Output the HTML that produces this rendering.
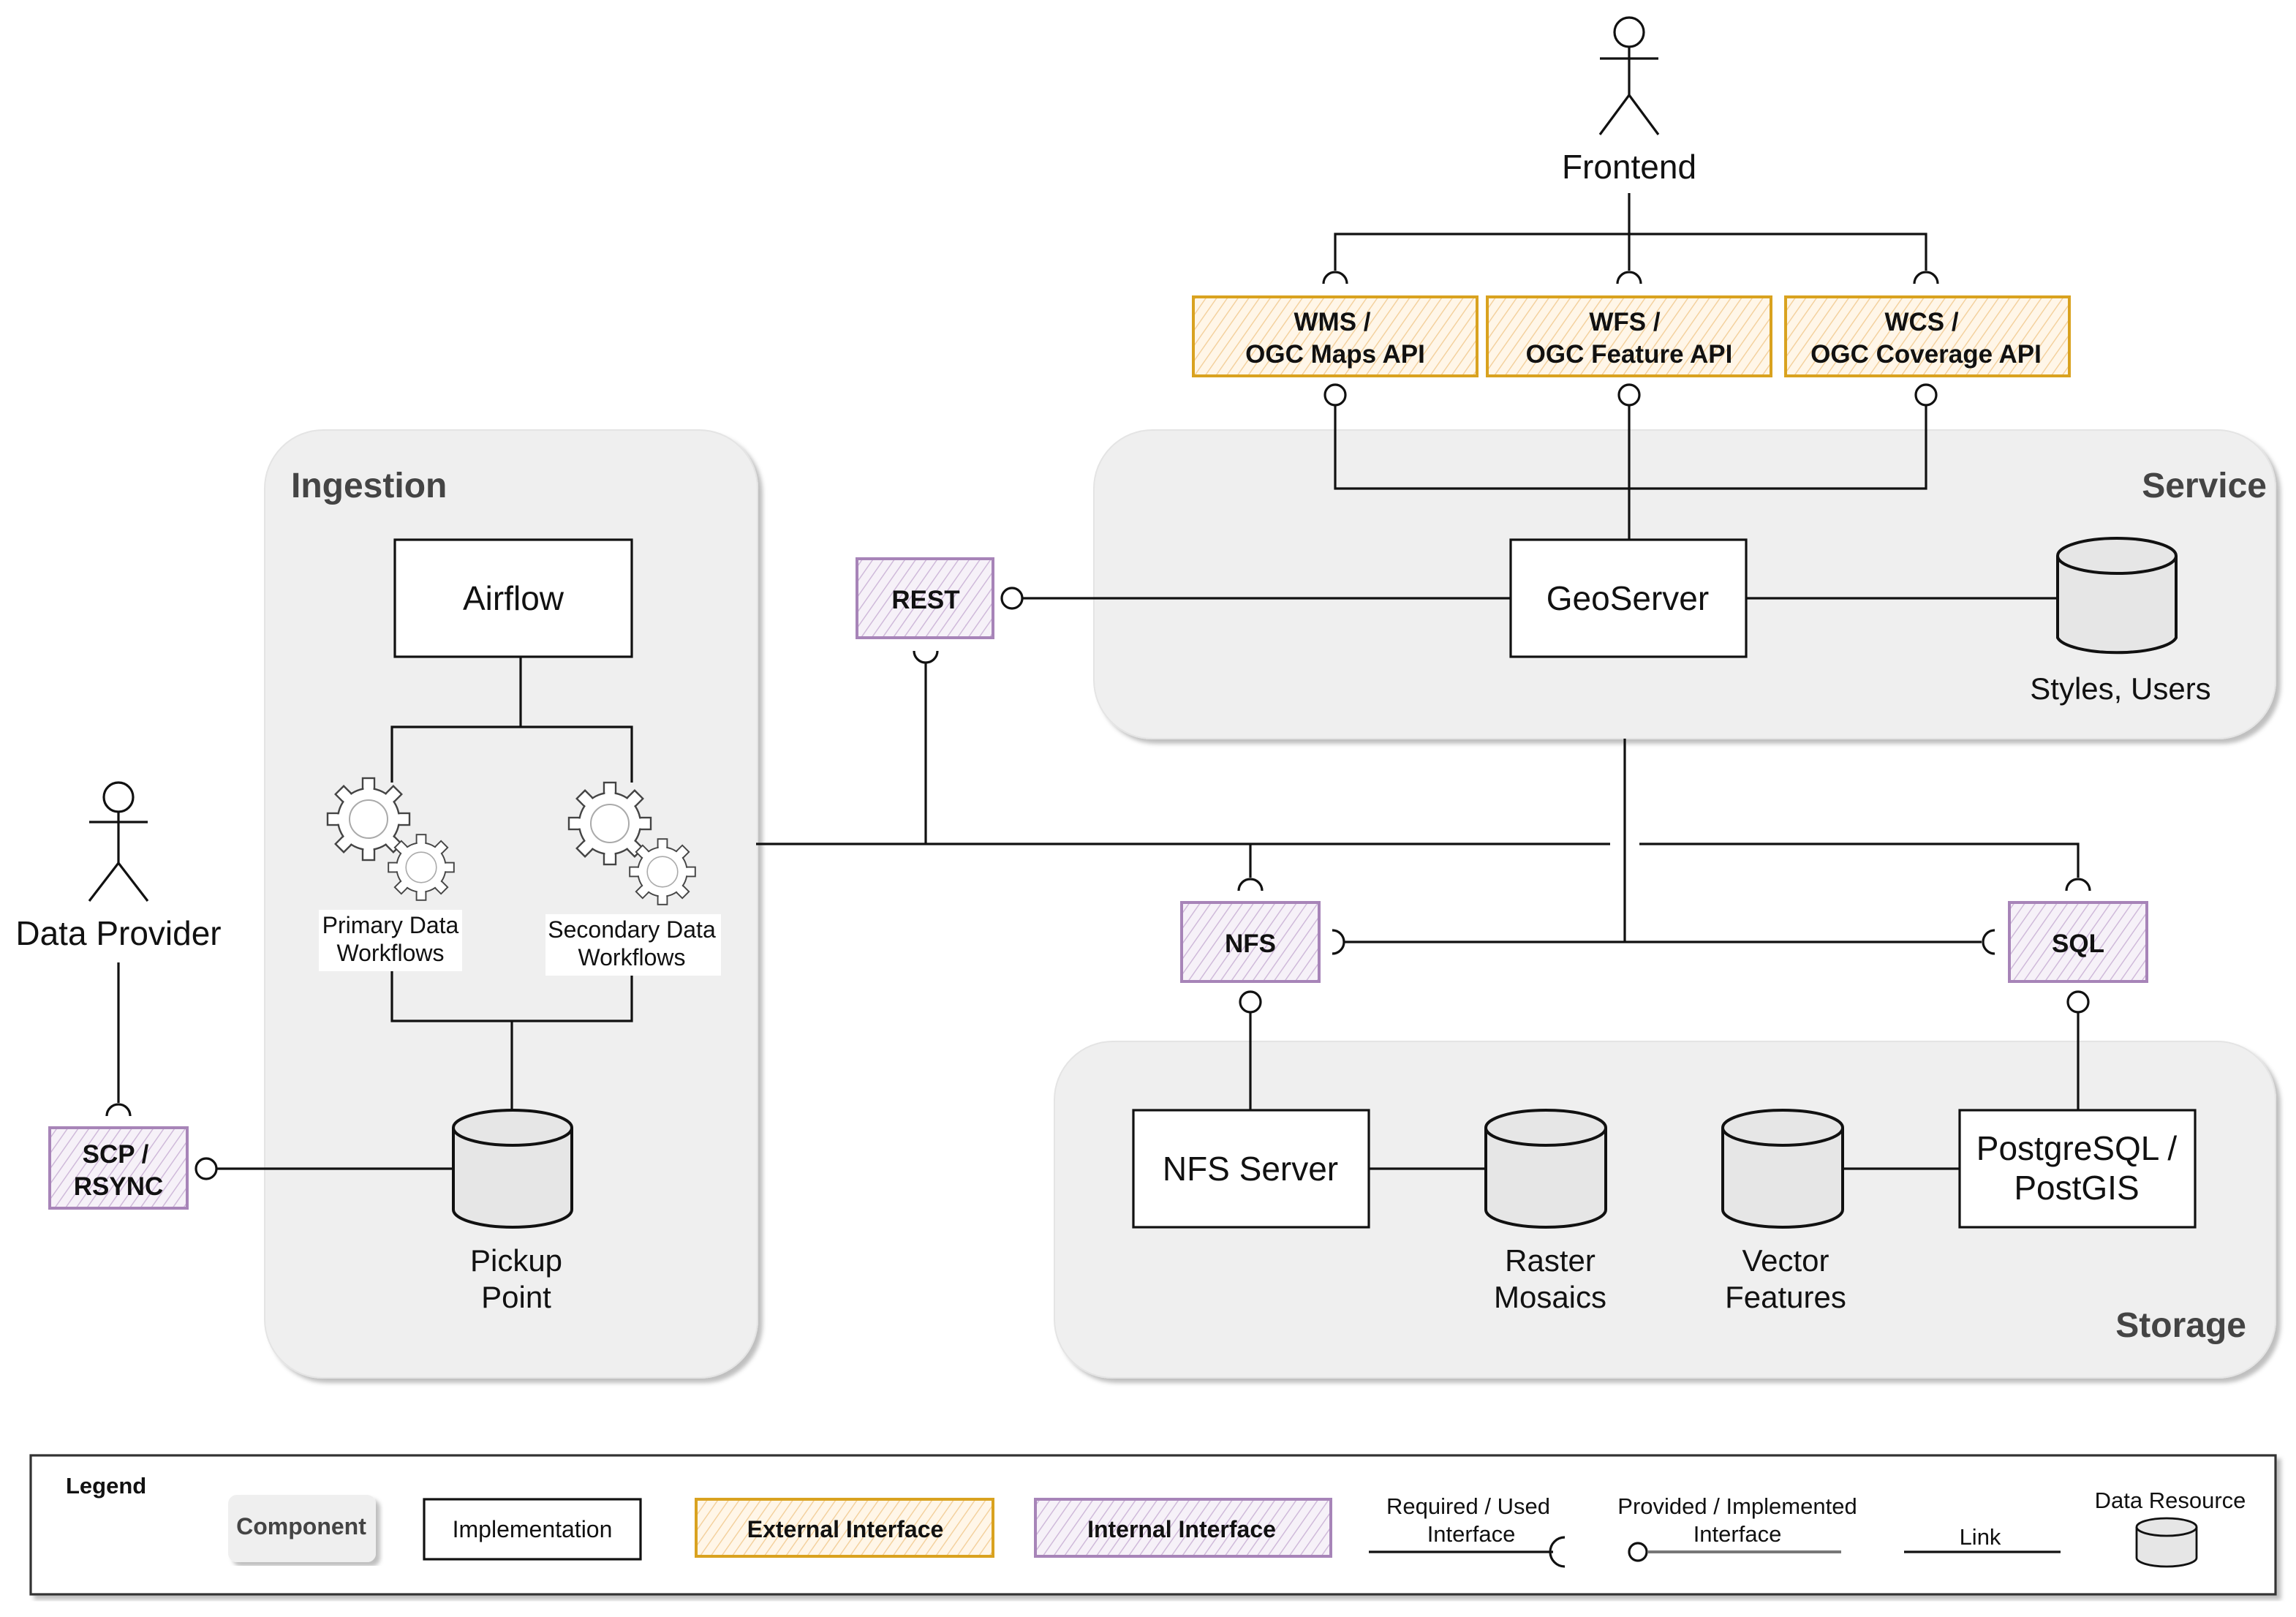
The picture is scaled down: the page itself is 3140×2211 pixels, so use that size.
<!DOCTYPE html>
<html><head><meta charset="utf-8"><style>
html,body{margin:0;padding:0;background:#fff;}
svg{display:block;}
text{font-family:"Liberation Sans",sans-serif;fill:#111;}
</style></head><body>
<svg width="3140" height="2211" viewBox="0 0 1570 1105.5" xmlns="http://www.w3.org/2000/svg">
<defs>
<pattern id="ho" width="6" height="6" patternUnits="userSpaceOnUse" patternTransform="rotate(35)">
<rect width="6" height="6" fill="#fff6e8"/><line x1="0" y1="0" x2="0" y2="6" stroke="#f3cf9a" stroke-width="1.4"/></pattern>
<pattern id="hp" width="6" height="6" patternUnits="userSpaceOnUse" patternTransform="rotate(35)">
<rect width="6" height="6" fill="#f6f1f8"/><line x1="0" y1="0" x2="0" y2="6" stroke="#cdb6d8" stroke-width="1.4"/></pattern>
<filter id="sh" x="-5%" y="-5%" width="110%" height="110%"><feDropShadow dx="3" dy="3" stdDeviation="1.5" flood-color="#000" flood-opacity="0.25"/></filter>
<g id="gear">
<g fill="#fff" stroke="#444" stroke-width="1.2">
<rect x="-4" y="-28" width="8" height="10" transform="rotate(0)"/>
<rect x="-4" y="-28" width="8" height="10" transform="rotate(45)"/>
<rect x="-4" y="-28" width="8" height="10" transform="rotate(90)"/>
<rect x="-4" y="-28" width="8" height="10" transform="rotate(135)"/>
<rect x="-4" y="-28" width="8" height="10" transform="rotate(180)"/>
<rect x="-4" y="-28" width="8" height="10" transform="rotate(225)"/>
<rect x="-4" y="-28" width="8" height="10" transform="rotate(270)"/>
<rect x="-4" y="-28" width="8" height="10" transform="rotate(315)"/>
<circle r="21"/>
</g>
<g fill="#fff"><rect x="-3.3" y="-27" width="6.6" height="10" transform="rotate(0)"/><rect x="-3.3" y="-27" width="6.6" height="10" transform="rotate(45)"/><rect x="-3.3" y="-27" width="6.6" height="10" transform="rotate(90)"/><rect x="-3.3" y="-27" width="6.6" height="10" transform="rotate(135)"/><rect x="-3.3" y="-27" width="6.6" height="10" transform="rotate(180)"/><rect x="-3.3" y="-27" width="6.6" height="10" transform="rotate(225)"/><rect x="-3.3" y="-27" width="6.6" height="10" transform="rotate(270)"/><rect x="-3.3" y="-27" width="6.6" height="10" transform="rotate(315)"/></g>
<circle r="13" fill="#fff" stroke="#aaa" stroke-width="1"/>
</g>
</defs>

<!-- containers -->
<rect x="181" y="294" width="337" height="648" rx="40" fill="#efefef" stroke="#e4e4e4" filter="url(#sh)"/>
<text x="199" y="340" font-size="24" font-weight="bold" style="fill:#444">Ingestion</text>
<rect x="748" y="294" width="808" height="211" rx="40" fill="#efefef" stroke="#e4e4e4" filter="url(#sh)"/>
<text x="1550" y="340" font-size="24" font-weight="bold" text-anchor="end" style="fill:#444">Service</text>
<rect x="721" y="712" width="835" height="230" rx="40" fill="#efefef" stroke="#e4e4e4" filter="url(#sh)"/>
<text x="1536" y="914" font-size="24" font-weight="bold" text-anchor="end" style="fill:#444">Storage</text>

<g stroke="#111" stroke-width="1.6" fill="none">
<!-- Frontend actor -->
<circle cx="1114" cy="22" r="10" fill="#fff"/>
<line x1="1114" y1="32" x2="1114" y2="65"/><line x1="1094" y1="40" x2="1134" y2="40"/>
<polyline points="1094,92 1114,65 1134,92"/>
<line x1="1114" y1="132" x2="1114" y2="185"/>
<polyline points="913,185 913,160 1317,160 1317,185"/>
<path d="M905,194 a8,8 0 0 1 16,0"/><path d="M1106,194 a8,8 0 0 1 16,0"/><path d="M1309,194 a8,8 0 0 1 16,0"/>
<!-- lollipops to geoserver -->
<circle cx="913" cy="270" r="7" fill="#fff"/><circle cx="1114" cy="270" r="7" fill="#fff"/><circle cx="1317" cy="270" r="7" fill="#fff"/>
<polyline points="913,277 913,334 1317,334 1317,277"/>
<line x1="1114" y1="277" x2="1114" y2="369"/>
<line x1="1194" y1="409" x2="1407" y2="409"/>
<circle cx="692" cy="409" r="7" fill="#fff"/>
<line x1="699" y1="409" x2="1033" y2="409"/>
<path d="M625,445 a8,8 0 0 0 16,0"/>
<line x1="633" y1="453" x2="633" y2="577"/>
<line x1="517" y1="577" x2="1101" y2="577"/>
<polyline points="1121,577 1421,577 1421,600"/>
<line x1="855" y1="577" x2="855" y2="600"/>
<path d="M847,609 a8,8 0 0 1 16,0"/><path d="M1413,609 a8,8 0 0 1 16,0"/>
<line x1="1111" y1="505" x2="1111" y2="644"/>
<path d="M911,636 a8,8 0 0 1 0,16"/>
<line x1="919" y1="644" x2="1355" y2="644"/>
<path d="M1364,636 a8,8 0 0 0 0,16"/>
<circle cx="855" cy="685" r="7" fill="#fff"/><circle cx="1421" cy="685" r="7" fill="#fff"/>
<line x1="855" y1="692" x2="855" y2="759"/><line x1="1421" y1="692" x2="1421" y2="759"/>
<line x1="936" y1="799" x2="1016" y2="799"/><line x1="1260" y1="799" x2="1340" y2="799"/>
<!-- ingestion lines -->
<line x1="356" y1="449" x2="356" y2="497"/>
<polyline points="268,535 268,497 432,497 432,535"/>
<polyline points="268,662 268,698 432,698 432,665"/>
<line x1="350" y1="698" x2="350" y2="760"/>
<!-- data provider -->
<circle cx="81" cy="545" r="10" fill="#fff"/>
<line x1="81" y1="555" x2="81" y2="590"/><line x1="61" y1="562" x2="101" y2="562"/>
<polyline points="61,616 81,590 101,616"/>
<line x1="81" y1="658" x2="81" y2="754"/>
<path d="M73,763 a8,8 0 0 1 16,0"/>
<circle cx="141" cy="799" r="7" fill="#fff"/>
<line x1="148" y1="799" x2="310" y2="799"/>
</g>

<text x="1114" y="122" font-size="23" text-anchor="middle">Frontend</text>
<rect x="8" y="623" width="148" height="32" fill="#fff"/>
<text x="81" y="646" font-size="23" text-anchor="middle">Data Provider</text>

<!-- external interfaces -->
<g stroke="#d9a21f" stroke-width="2" fill="url(#ho)">
<rect x="816" y="203" width="194" height="54"/><rect x="1017" y="203" width="194" height="54"/><rect x="1221" y="203" width="194" height="54"/>
</g>
<g font-size="17.5" font-weight="bold" text-anchor="middle">
<text x="911" y="226">WMS /</text><text x="913" y="248">OGC Maps API</text>
<text x="1111" y="226">WFS /</text><text x="1114" y="248">OGC Feature API</text>
<text x="1314" y="226">WCS /</text><text x="1317" y="248">OGC Coverage API</text>
</g>

<!-- internal interfaces -->
<g stroke="#a784b8" stroke-width="2" fill="url(#hp)">
<rect x="586" y="382" width="93" height="54"/><rect x="808" y="617" width="94" height="54"/><rect x="1374" y="617" width="94" height="54"/><rect x="34" y="771" width="94" height="55"/>
</g>
<g font-size="17.5" font-weight="bold" text-anchor="middle">
<text x="633" y="416">REST</text><text x="855" y="651">NFS</text><text x="1421" y="651">SQL</text>
<text x="79" y="795">SCP /</text><text x="81" y="817">RSYNC</text>
</g>

<!-- implementations -->
<g fill="#fff" stroke="#111" stroke-width="1.6">
<rect x="1033" y="369" width="161" height="80"/><rect x="270" y="369" width="162" height="80"/>
<rect x="775" y="759" width="161" height="80"/><rect x="1340" y="759" width="161" height="80"/>
</g>
<g font-size="23" text-anchor="middle">
<text x="1113" y="417">GeoServer</text><text x="351" y="417">Airflow</text>
<text x="855" y="807">NFS Server</text>
<text x="1420" y="793">PostgreSQL /</text><text x="1420" y="820">PostGIS</text>
</g>

<!-- cylinders -->
<g fill="#e6e6e6" stroke="#111" stroke-width="2">
<path d="M1407,380 v56 a41,12 0 0 0 81,0 v-56"/><ellipse cx="1447.5" cy="380" rx="40.5" ry="12"/>
<path d="M310,771 v56 a40.5,12 0 0 0 81,0 v-56"/><ellipse cx="350.5" cy="771" rx="40.5" ry="12"/>
<path d="M1016,771 v56 a41,12 0 0 0 82,0 v-56"/><ellipse cx="1057" cy="771" rx="41" ry="12"/>
<path d="M1178,771 v56 a41,12 0 0 0 82,0 v-56"/><ellipse cx="1219" cy="771" rx="41" ry="12"/>
</g>
<g font-size="21" text-anchor="middle">
<text x="1450" y="478">Styles, Users</text>
<text x="353" y="869">Pickup</text><text x="353" y="894">Point</text>
<text x="1060" y="869">Raster</text><text x="1060" y="894">Mosaics</text>
<text x="1221" y="869">Vector</text><text x="1221" y="894">Features</text>
</g>

<!-- gears -->
<use href="#gear" transform="translate(252,560)"/>
<use href="#gear" transform="translate(288,593) scale(0.8)"/>
<use href="#gear" transform="translate(417,563)"/>
<use href="#gear" transform="translate(453,596) scale(0.8)"/>
<rect x="218" y="622" width="98" height="42" fill="#fff"/>
<rect x="373" y="625" width="120" height="42" fill="#fff"/>
<g font-size="16" text-anchor="middle">
<text x="267" y="638">Primary Data</text><text x="267" y="657">Workflows</text>
<text x="432" y="641">Secondary Data</text><text x="432" y="660">Workflows</text>
</g>

<!-- legend -->
<rect x="21" y="995" width="1535" height="95" fill="#fff" stroke="#333" stroke-width="1.6" filter="url(#sh)"/>
<text x="45" y="1021" font-size="15.5" font-weight="bold">Legend</text>
<rect x="156" y="1022" width="101" height="46" rx="6" fill="#efefef" filter="url(#sh)"/>
<text x="206" y="1049" font-size="16" font-weight="bold" text-anchor="middle" style="fill:#444">Component</text>
<rect x="290" y="1025" width="148" height="41" fill="#fff" stroke="#111" stroke-width="1.6"/>
<text x="364" y="1051" font-size="16" text-anchor="middle">Implementation</text>
<rect x="476" y="1025" width="203" height="39" fill="url(#ho)" stroke="#d9a21f" stroke-width="2"/>
<text x="578" y="1051" font-size="16" font-weight="bold" text-anchor="middle">External Interface</text>
<rect x="708" y="1025" width="202" height="39" fill="url(#hp)" stroke="#a784b8" stroke-width="2"/>
<text x="808" y="1051" font-size="16" font-weight="bold" text-anchor="middle">Internal Interface</text>
<g font-size="15.5" text-anchor="middle">
<text x="1004" y="1035">Required / Used</text><text x="1006" y="1054">Interface</text>
<text x="1188" y="1035">Provided / Implemented</text><text x="1188" y="1054">Interface</text>
<text x="1354" y="1056">Link</text>
<text x="1484" y="1031">Data Resource</text>
</g>
<g stroke="#111" stroke-width="1.6" fill="none">
<line x1="936" y1="1061" x2="1062" y2="1061"/>
<path d="M1070,1051 a10,10 0 0 0 0,20"/>
<circle cx="1120" cy="1061" r="6" fill="#fff"/>
<line x1="1127" y1="1061" x2="1259" y2="1061" stroke="#777" stroke-width="2"/>
<line x1="1302" y1="1061" x2="1409" y2="1061"/>
</g>
<g fill="#e6e6e6" stroke="#111" stroke-width="1.4">
<path d="M1461,1044 v21 a20.5,6 0 0 0 41,0 v-21"/><ellipse cx="1481.5" cy="1044" rx="20.5" ry="6"/>
</g>
</svg>
</body></html>
